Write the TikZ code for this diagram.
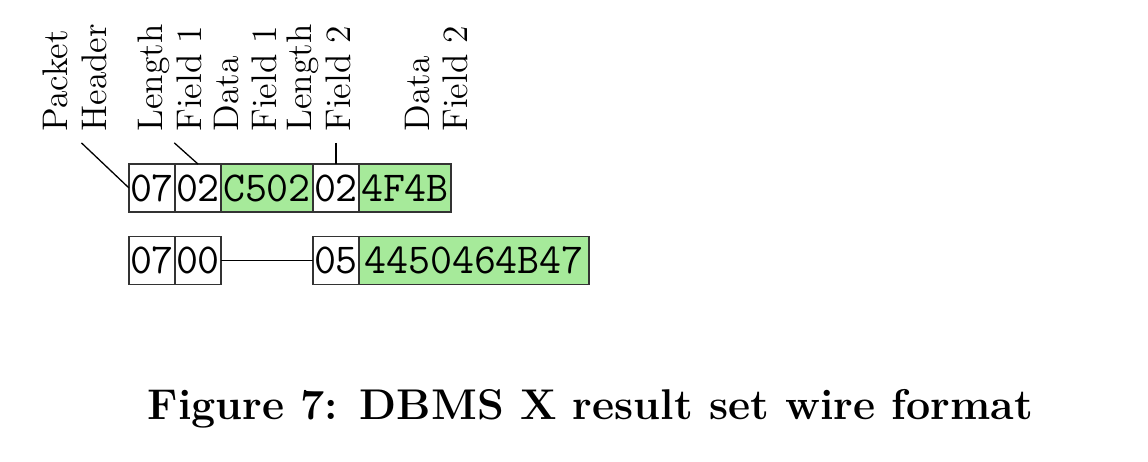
\documentclass[tikz,border=0pt]{standalone}
\usetikzlibrary{positioning}
\definecolor{datagreen}{HTML}{A6EA9A}
\tikzset{
    field/.style={draw=black!80, minimum height=0.52cm, minimum width=0.5cm,
        inner sep=0pt, outer sep=0pt, font=\fontsize{13.2}{15}\selectfont\ttfamily},
    datafield/.style={field, fill=datagreen},
    fieldlabel/.style={rotate=90, anchor=west, align=left,
        font=\fontsize{11}{12}\selectfont},
}
\begin{document}
\begin{tikzpicture}
        \useasboundingbox (-1.402,-2.978) rectangle (11.076,2.043);
        %% first row
        \node[field] (a1) at (0.25,0) {07};
        \node[field, right=0pt of a1] (a2) {02};
        \node[datafield, minimum width=1cm, right=0pt of a2] (a3) {C502};
        \node[field, right=0pt of a3] (a4) {02};
        \node[datafield, minimum width=1cm, right=0pt of a4] (a5) {4F4B};
        %% second row
        \node[field] (b1) at (0.25,-0.79) {07};
        \node[field, right=0pt of b1] (b2) {00};
        \node[field] (b3) at (2.25,-0.79) {05};
        \node[datafield, minimum width=2.5cm, right=0pt of b3] (b4) {4450464B47};
        \draw (b2.east) -- (b3.west);
        %% labels
        \node[fieldlabel] (ph) at (-0.587,0.49) {Packet\\Header};
        \node[fieldlabel] (lf1) at (0.44,0.49) {Length\\Field 1};
        \node[fieldlabel] (df1) at (1.266,0.49) {Data\\Field 1};
        \node[fieldlabel] (lf2) at (2.065,0.49) {Length\\Field 2};
        \node[fieldlabel] (df2) at (3.342,0.49) {Data\\Field 2};
        \draw ([xshift=2pt]ph.west) -- (a1.west);
        \draw ([xshift=1.5pt]lf1.west) -- (a2.north);
        \draw (lf2.west -| a4.north) -- (a4.north);
        %% caption
        \node[font=\fontsize{13.3}{16}\selectfont\bfseries, anchor=base] (cap) at (5.016,-2.52)
            {Figure 7: DBMS X result set wire format};
\end{tikzpicture}
\end{document}
